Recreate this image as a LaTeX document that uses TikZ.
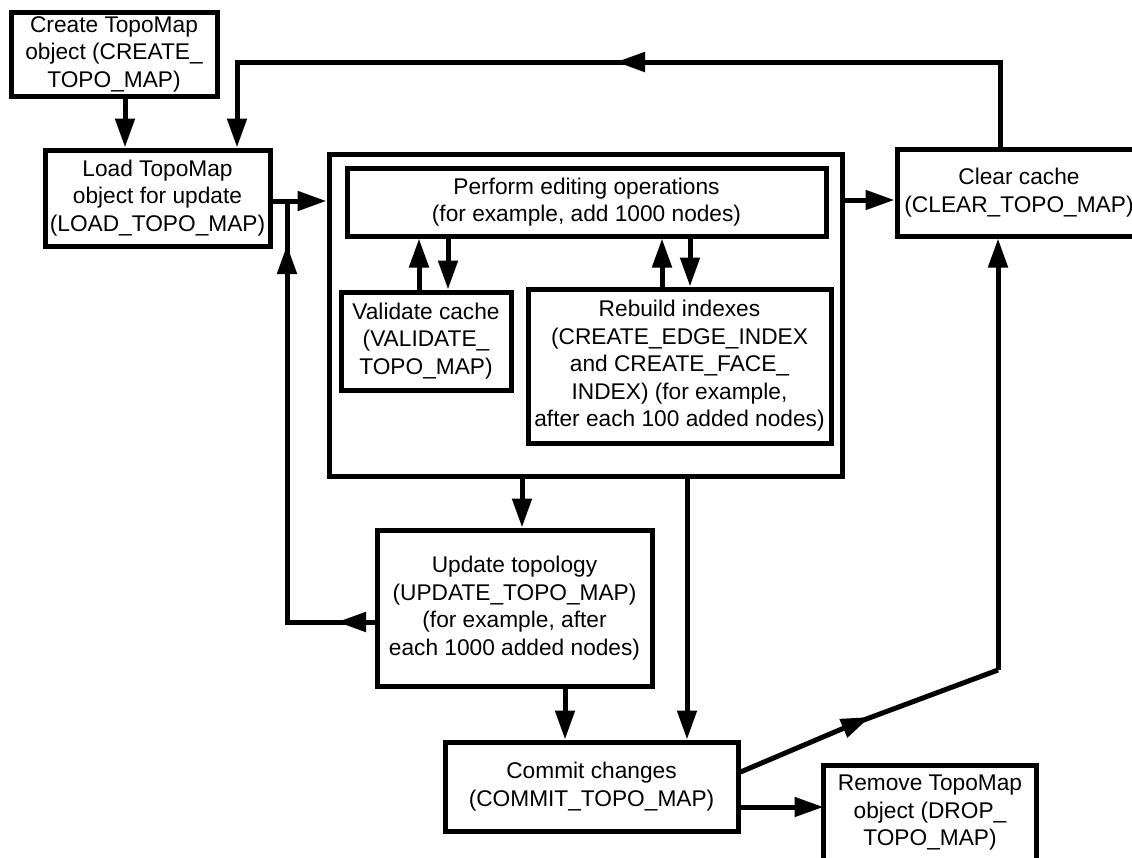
\documentclass[tikz,border=0pt]{standalone}
\usepackage{fontspec}
\setmainfont{Liberation Sans}
\usetikzlibrary{arrows.meta}
\begin{document}
\begin{tikzpicture}[x=1pt,y=-1pt,
  box/.style={draw, line width=5pt, inner sep=0pt, align=center,
    font=\fontsize{22.7}{27.5}\selectfont},
  arr/.style={line width=5pt, -{Triangle[length=29pt,width=19pt]}},
  ln/.style={line width=5pt}]
\useasboundingbox (0,0) rectangle (1132,857);
% frame
\node[draw, line width=5pt, inner sep=0pt, minimum width=513pt, minimum height=322pt] (big) at (585.5,315) {};
% boxes
\node[box, minimum width=206pt, minimum height=84pt] (create) at (114,54)
  {Create TopoMap\\object (CREATE\_\\TOPO\_MAP)};
\node[box, minimum width=225pt, minimum height=96pt] (load) at (157.5,198)
  {Load TopoMap\\object for update\\(LOAD\_TOPO\_MAP)};
\node[box, minimum width=479pt, minimum height=68pt] (perform) at (586.5,202)
  {Perform editing operations\\(for example, add 1000 nodes)};
\node[box, minimum width=170pt, minimum height=98pt] (validate) at (426,341)
  {Validate cache\\(VALIDATE\_\\TOPO\_MAP)};
\node[box, minimum width=303pt, minimum height=154pt] (rebuild) at (679.5,366)
  {Rebuild indexes\\(CREATE\_EDGE\_INDEX\\and CREATE\_FACE\_\\INDEX) (for example,\\after each 100 added nodes)};
\node[box, minimum width=244pt, minimum height=87pt] (clear) at (1019,192.5)
  {Clear cache\\(CLEAR\_TOPO\_MAP)};
\node[box, minimum width=275pt, minimum height=156pt] (update) at (514.5,608)
  {Update topology\\(UPDATE\_TOPO\_MAP)\\(for example, after\\each 1000 added nodes)};
\node[box, minimum width=293pt, minimum height=89pt] (commit) at (591.5,786.5)
  {Commit changes\\(COMMIT\_TOPO\_MAP)};
\node[box, draw=none, minimum width=208pt, minimum height=90pt] (remove) at (930,813)
  {Remove TopoMap\\object (DROP\_\\TOPO\_MAP)};
\draw[line width=5pt] (remove.north west) rectangle ([yshift=-14pt]remove.south east);
% helper coordinates
\coordinate (topmid) at (616,62);
\coordinate (leftmid) at (337,622);
\coordinate (leftup) at (287,245);
\coordinate (diagmid) at (870,717);
\coordinate (diagend) at (998,670);
% connectors
\draw[arr] (create.south -| 125,0) -- (load.north -| 125,0);
\draw[arr] (clear.north -| 1000,0) |- (topmid);
\draw[arr] (626,62) -| (load.north -| 237,0);
\draw[arr] (load.east |- 0,201) -- (big.west |- 0,201);
\draw[arr] (update.west |- 0,622) -- (leftmid);
\draw[arr] (347,622) -| (leftup);
\draw[ln] (287,255) -- (287,201);
\draw[arr] (big.east |- 0,200) -- (clear.west |- 0,200);
\draw[arr] (validate.north -| 419,0) -- (perform.south -| 419,0);
\draw[arr] (perform.south -| 448,0) -- (validate.north -| 448,0);
\draw[arr] (rebuild.north -| 662,0) -- (perform.south -| 662,0);
\draw[arr] (perform.south -| 690,0) -- (rebuild.north -| 690,0);
\draw[arr] (big.south -| 522,0) -- (update.north -| 522,0);
\draw[arr] (big.south -| 687,0) -- (commit.north -| 687,0);
\draw[arr] (update.south -| 565,0) -- (commit.north -| 565,0);
\draw[arr] (commit.east |- 0,807) -- (remove.west |- 0,807);
\draw[arr] (commit.east |- 0,772) -- (diagmid);
\draw[ln] (861,721) -- (diagend);
\draw[arr] (diagend) -- (clear.south -| 998,0);
\end{tikzpicture}
\end{document}
